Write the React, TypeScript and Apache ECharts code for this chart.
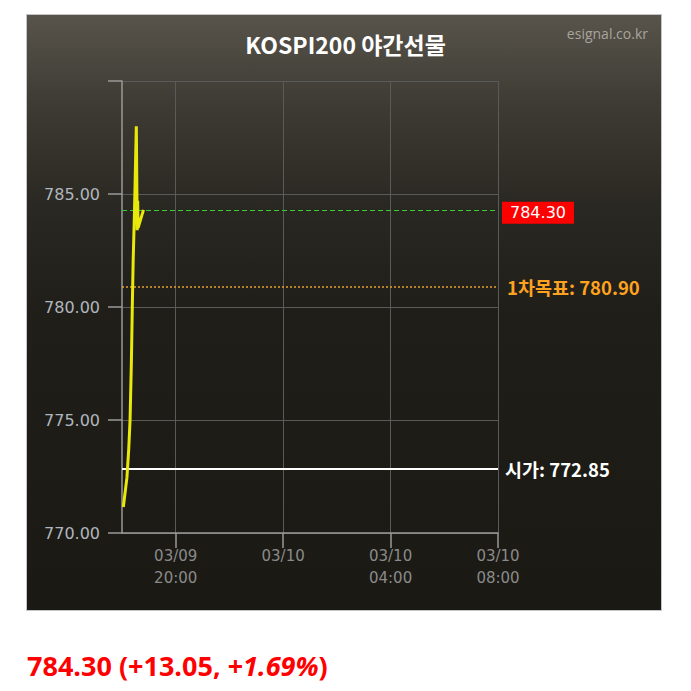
import React, { useEffect, useRef } from "react";
import * as echarts from "echarts";

const chartTitle = "KOSPI200 야간선물";
const sourceLabel = "esignal.co.kr";

const times = [
  "2026-03-09 18:03",
  "2026-03-09 18:11",
  "2026-03-09 18:15",
  "2026-03-09 18:18",
  "2026-03-09 18:21",
  "2026-03-09 18:23",
  "2026-03-09 18:25",
  "2026-03-09 18:28",
  "2026-03-09 18:32",
  "2026-03-09 18:34",
  "2026-03-09 18:35",
  "2026-03-09 18:36",
  "2026-03-09 18:48",
];
const prices = [
  771.15, 772.45, 773.7, 775.0, 777.6, 780.0, 782.1, 784.3, 788.0, 783.4,
  784.7, 783.5, 784.3,
];

const xMin = "2026-03-09 18:00";
const xMax = "2026-03-10 08:00";
const xTickTimes = [
  "2026-03-09 20:00",
  "2026-03-10 00:00",
  "2026-03-10 04:00",
  "2026-03-10 08:00",
];
const yMin = 770;
const yMax = 790;
const yStep = 5;

const lastPrice = 784.3;
const targetPrice = 780.9;
const openPrice = 772.85;
const change = 13.05;
const changePct = 1.69;

function ts(s: string): number {
  const [d, t] = s.split(" ");
  const [Y, M, D] = d.split("-").map(Number);
  const [h, m] = t.split(":").map(Number);
  return new Date(Y, M - 1, D, h, m).getTime();
}

const pad = (n: number) => (n < 10 ? "0" + n : "" + n);

export default function App() {
  const ref = useRef<HTMLDivElement>(null);

  useEffect(() => {
    if (!ref.current) return;
    const chart = echarts.init(ref.current, null, { renderer: "svg" });
    const data = times.map((t, i) => [ts(t), prices[i]]);
    const tickVals = xTickTimes.map(ts);

    const option: any = {
      animation: false,
      backgroundColor: "transparent",
      title: {
        text: chartTitle,
        left: "center",
        top: 27,
        textStyle: {
          color: "#ffffff",
          fontSize: 23,
          fontWeight: "bold",
          fontFamily: "Noto Sans CJK KR",
        },
      },
      grid: {
        left: 122,
        right: 193,
        top: 81,
        bottom: 158,
        containLabel: false,
        outerBoundsMode: "none",
      },
      xAxis: {
        type: "value",
        min: ts(xMin),
        max: ts(xMax),
        axisLine: { show: true, lineStyle: { color: "#9a9a9a", width: 1.5 } },
        axisTick: {
          show: true,
          length: 15,
          customValues: tickVals,
          lineStyle: { color: "#9a9a9a", width: 1.5 },
        },
        axisLabel: {
          customValues: tickVals,
          margin: 12,
          color: "#8a8a8a",
          fontSize: 15,
          lineHeight: 22,
          fontFamily: "DejaVu Sans",
          formatter: (v: number) => {
            const d = new Date(v);
            const md = pad(d.getMonth() + 1) + "/" + pad(d.getDate());
            if (d.getHours() === 0 && d.getMinutes() === 0) return md;
            return md + "\n" + pad(d.getHours()) + ":" + pad(d.getMinutes());
          },
        },
        splitLine: { show: true, lineStyle: { color: "#5a5a5a", width: 1 } },
      },
      yAxis: {
        type: "value",
        min: yMin,
        max: yMax,
        interval: yStep,
        axisLine: { show: true, lineStyle: { color: "#9a9a9a", width: 1.5 } },
        axisTick: {
          show: true,
          length: 14,
          lineStyle: { color: "#9a9a9a", width: 1.5 },
        },
        axisLabel: {
          margin: 22,
          color: "#b0b6bd",
          fontSize: 16,
          fontFamily: "DejaVu Sans",
          formatter: (v: number) => (v === yMax ? "" : v.toFixed(2)),
        },
        splitLine: { show: true, lineStyle: { color: "#5a5a5a", width: 1 } },
      },
      series: [
        {
          type: "line",
          data,
          showSymbol: false,
          lineStyle: { color: "#e8e80a", width: 3 },
          z: 5,
          markLine: {
            silent: true,
            symbol: "none",
            data: [
              {
                yAxis: lastPrice,
                lineStyle: { color: "#33cc33", type: [5, 3], width: 1 },
                label: {
                  show: true,
                  position: "end",
                  distance: 4,
                  offset: [0, 3],
                  formatter: lastPrice.toFixed(2),
                  color: "#ffffff",
                  backgroundColor: "#ff0000",
                  padding: [3, 8, 3, 8],
                  fontSize: 16,
                  fontFamily: "DejaVu Sans",
                },
              },
              {
                yAxis: targetPrice,
                lineStyle: { color: "#e6a030", type: [2, 2], width: 1.5 },
                label: {
                  show: true,
                  position: "end",
                  distance: 9,
                  formatter: "1차목표: " + targetPrice.toFixed(2),
                  color: "#ffa21f",
                  fontWeight: "bold",
                  fontSize: 18.5,
                  fontFamily: "Noto Sans CJK KR",
                },
              },
              {
                yAxis: openPrice,
                lineStyle: { color: "#ffffff", type: "solid", width: 2 },
                label: {
                  show: true,
                  position: "end",
                  distance: 7,
                  formatter: "시가: " + openPrice.toFixed(2),
                  color: "#ffffff",
                  fontWeight: "bold",
                  fontSize: 18.5,
                  fontFamily: "Noto Sans CJK KR",
                },
              },
            ],
          },
        },
      ],
      graphic: [
        {
          type: "text",
          x: 648,
          y: 33,
          style: {
            text: sourceLabel,
            align: "right",
            verticalAlign: "middle",
            fill: "#a8a49c",
            fontSize: 14,
            fontFamily: "Open Sans",
          },
        },
        {
          type: "text",
          x: 27,
          y: 665,
          style: {
            text:
              "{a|" +
              lastPrice.toFixed(2) +
              " (+" +
              change.toFixed(2) +
              ", +}{b|" +
              changePct.toFixed(2) +
              "%}{a|)}",
            align: "left",
            verticalAlign: "middle",
            rich: {
              a: {
                fill: "#ff0000",
                fontSize: 27,
                fontWeight: "bold",
                fontFamily: "Open Sans",
              },
              b: {
                fill: "#ff0000",
                fontSize: 27,
                fontWeight: "bold",
                fontStyle: "italic",
                fontFamily: "Open Sans",
              },
            },
          },
        },
      ],
    };
    chart.setOption(option);
    return () => chart.dispose();
  }, []);

  return (
    <div
      style={{
        position: "fixed",
        left: 0,
        top: 0,
        width: 691,
        height: 691,
        background: "#ffffff",
      }}
    >
      <div
        style={{
          position: "absolute",
          left: 26,
          top: 14,
          width: 636,
          height: 597,
          boxSizing: "border-box",
          border: "1px solid #c4c4c4",
          background:
            "linear-gradient(to bottom, #58544b 0%, #3e3b34 15%, #2a2822 32%, #201e19 50%, #1b1914 100%)",
        }}
      />
      <div
        ref={ref}
        style={{ position: "absolute", left: 0, top: 0, width: 691, height: 691 }}
      />
    </div>
  );
}
